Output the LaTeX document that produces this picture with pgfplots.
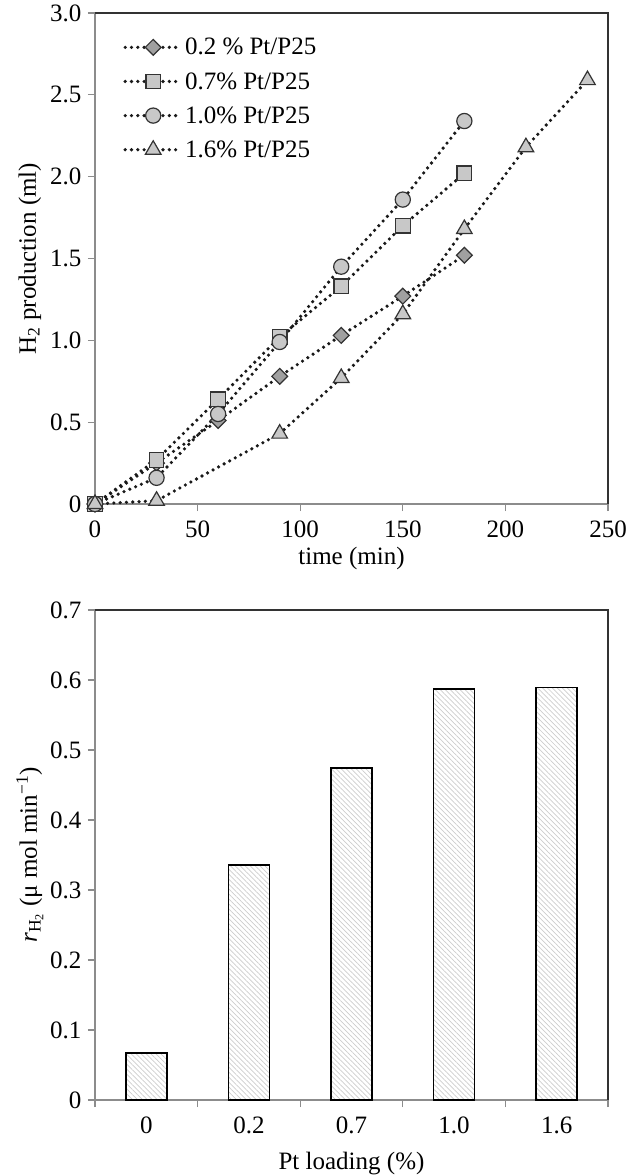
\documentclass[border=0pt]{standalone}
\usepackage{pgfplots}
\pgfplotsset{compat=1.18}
\usepackage{fontspec}
\setmainfont{Liberation Serif}
\usetikzlibrary{patterns.meta}

\definecolor{axgray}{HTML}{8C8C8C}
\definecolor{framec}{HTML}{333333}
\definecolor{mkdark}{HTML}{A0A0A0}
\definecolor{mklight}{HTML}{C8C8C8}

\pgfplotsset{
 common/.style={
  scale only axis, width=513pt,
  font=\fontsize{25}{29}\selectfont,
  tick label style={font=\fontsize{25}{29}\selectfont},
  xticklabel style={yshift=-6pt},
  yticklabel style={xshift=-3pt},
  /pgf/number format/assume math mode=true,
  axis x line*=bottom, axis y line*=left,
  axis line style={axgray, line width=1.3pt},
  tick style={axgray, line width=1.3pt},
  tick align=outside, major tick length=7pt,
  clip=false,
  every axis y label/.style={at={(axis description cs:-0.127,0.5)}, rotate=90, anchor=center},
 },
 dotline/.style={black!90, line width=3.6pt, dash pattern=on 0pt off 6.3pt, line cap=round},
}

\begin{document}
\begin{tikzpicture}
\path[use as bounding box] (0pt,0pt) rectangle (627pt,-1175pt);

\begin{axis}[common, at={(95pt,-504pt)}, anchor=south west, height=491pt,
 xmin=0, xmax=250, ymin=0, ymax=3,
 xtick={0,50,100,150,200,250},
 ytick={0,0.5,1,1.5,2,2.5,3},
 yticklabels={0,0.5,1.0,1.5,2.0,2.5,3.0},
 xlabel={time (min)},
 ylabel={H\textsubscript{2} production (ml)},
 every axis x label/.style={at={(axis description cs:0.5,-0.11)}, anchor=center},
 legend style={at={(axis description cs:0.055,0.953)}, anchor=north west, draw=none, fill=none,
   inner sep=0pt, row sep=12pt, font=\fontsize{25}{29}\selectfont},
 legend cell align=left,
 legend image code/.code={\draw[mark repeat=2,mark phase=2,#1] plot coordinates {(0pt,0pt) (28pt,0pt) (56pt,0pt)};},
]
\addplot[dotline, mark=square*, mark size=5.6pt, mark options={solid, draw=framec, line width=1.2pt, fill=mkdark, rotate=45}]
 coordinates {(0,0) (30,0.25) (60,0.51) (90,0.78) (120,1.03) (150,1.27) (180,1.52)};
\addlegendentry{0.2 \% Pt/P25}
\addplot[dotline, mark=square*, mark size=7.3pt, mark options={solid, draw=framec, line width=1.2pt, fill=mklight}]
 coordinates {(0,0) (30,0.27) (60,0.64) (90,1.02) (120,1.33) (150,1.70) (180,2.02)};
\addlegendentry{0.7\% Pt/P25}
\addplot[dotline, mark=*, mark size=7.6pt, mark options={solid, draw=framec, line width=1.2pt, fill=mklight}]
 coordinates {(0,0) (30,0.16) (60,0.55) (90,0.99) (120,1.45) (150,1.86) (180,2.34)};
\addlegendentry{1.0\% Pt/P25}
\addplot[dotline, mark=triangle*, mark size=9pt, mark options={solid, draw=framec, line width=1.2pt, fill=mklight}]
 coordinates {(0,0) (30,0.02) (90,0.43) (120,0.77) (150,1.16) (180,1.68) (210,2.18) (240,2.59)};
\addlegendentry{1.6\% Pt/P25}
\draw[framec, line width=1.3pt] (rel axis cs:0,1) -- (rel axis cs:1,1) -- (rel axis cs:1,0);
\end{axis}

\begin{axis}[common, at={(95pt,-1100pt)}, anchor=south west, height=490pt,
 xmin=-0.5, xmax=4.5, ymin=0, ymax=0.7,
 xtick={-0.5,0.5,1.5,2.5,3.5,4.5}, xticklabels={},
 extra x ticks={0,1,2,3,4}, extra x tick labels={0,0.2,0.7,1.0,1.6},
 extra x tick style={tick style={draw=none}},
 ytick={0,0.1,0.2,0.3,0.4,0.5,0.6,0.7},
 yticklabels={0,0.1,0.2,0.3,0.4,0.5,0.6,0.7},
 xlabel={Pt loading (\%)},
 every axis x label/.style={at={(axis description cs:0.5,-0.129)}, anchor=center},
 ylabel={\textit{r}\textsubscript{H\textsubscript{2}} (μ mol min\textsuperscript{−1})},
 ybar, bar width=41pt,
]
\addplot[draw=black, line width=1.5pt, pattern={Lines[angle=-45,distance=3.5pt,line width=0.7pt]}, pattern color=gray!40]
 coordinates {(0,0.067) (1,0.336) (2,0.474) (3,0.587) (4,0.589)};
\draw[framec, line width=1.3pt] (rel axis cs:0,1) -- (rel axis cs:1,1) -- (rel axis cs:1,0);
\end{axis}
\end{tikzpicture}
\end{document}
